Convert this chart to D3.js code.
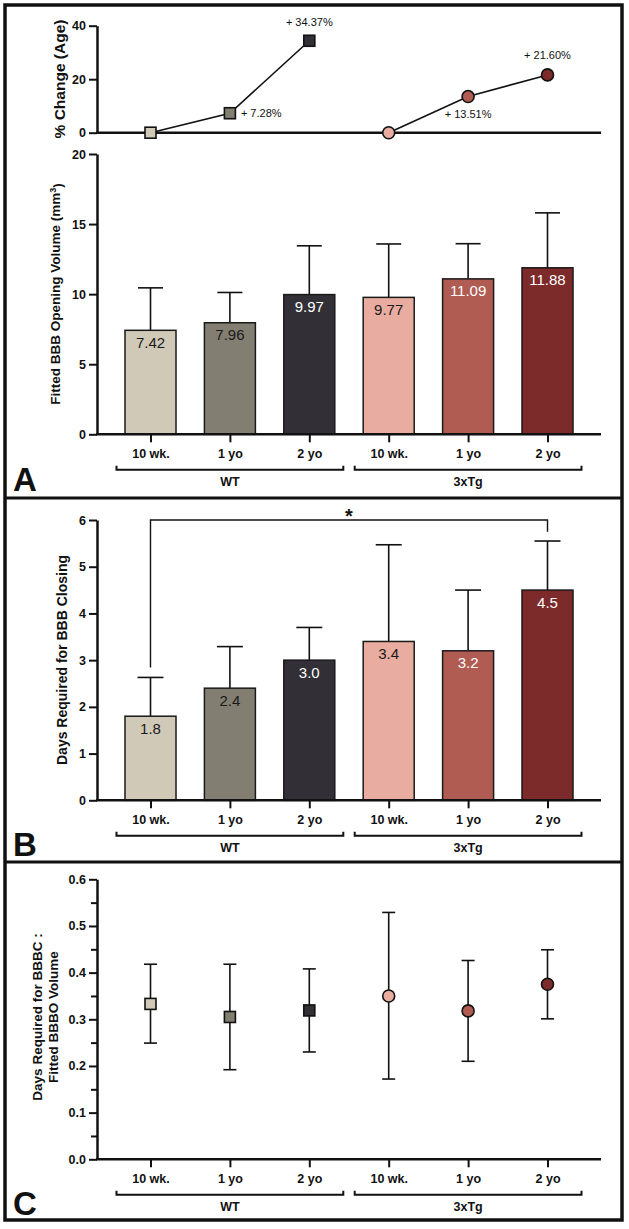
<!DOCTYPE html>
<html>
<head>
    <meta charset="UTF-8">
    <style>
        body {
            margin: 0;
            background: #fff;
        }

        svg text {
            font-family: "Liberation Sans", Arial, sans-serif;
        }

        .axis text {
            font-size: 12.5px;
            font-weight: bold;
            fill: #111;
        }

        .axis line,
        .axis path {
            stroke: #111;
        }

        .title {
            font-size: 13.5px;
            font-weight: bold;
            fill: #111;
        }

        .panel-letter {
            font-size: 33px;
            font-weight: bold;
            fill: #111;
        }
    </style>
    <title>BBB opening and closing</title>
</head>
<body>
    <svg id="chart" width="629" height="1229"></svg>

    <script src="https://d3js.org/d3.v7.min.js"></script>
    <script>
        // categories, left to right
        const categories = ["WT 10wk", "WT 1yo", "WT 2yo", "3xTg 10wk", "3xTg 1yo", "3xTg 2yo"];
        const ageLabels = ["10 wk.", "1 yo", "2 yo", "10 wk.", "1 yo", "2 yo"];
        const groupNames = ["WT", "3xTg"];
        const groupOf = ["WT", "WT", "WT", "3xTg", "3xTg", "3xTg"];
        const colors = ["#d0c9b7", "#827e71", "#323036", "#e8ada0", "#b05c52", "#7d2a2a"];

        // A (top): % change with age
        const pctChange = [0, 7.28, 34.37, 0, 13.51, 21.60];
        const pctLabels = ["", "+ 7.28%", "+ 34.37%", "", "+ 13.51%", "+ 21.60%"];

        // A: fitted BBB opening volume, mean and top of error bar
        const volumeMean = [7.42, 7.96, 9.97, 9.77, 11.09, 11.88];
        const volumeUpper = [10.45, 10.12, 13.45, 13.58, 13.6, 15.8];

        // B: days required for BBB closing
        const closingMean = [1.8, 2.4, 3.0, 3.4, 3.2, 4.5];
        const closingUpper = [2.63, 3.29, 3.70, 5.47, 4.50, 5.55];

        // C: ratio closing days / opening volume
        const ratioMean = [0.333, 0.305, 0.319, 0.35, 0.318, 0.375];
        const ratioLow = [0.249, 0.192, 0.23, 0.172, 0.21, 0.301];
        const ratioHigh = [0.418, 0.418, 0.408, 0.529, 0.426, 0.449];

        const svg = d3.select("#chart");
        const ink = "#111";
        const axisLeftX = 97, axisRightX = 601;
        const barWidth = 51;

        const x = d3.scalePoint().domain(categories).range([150.5, 547.5]);

        // label colour: white on the dark bars
        const lightText = i => (i === 2 || i === 4 || i === 5);

        // outer frame and panel dividers
        svg.append("rect")
            .attr("x", 5).attr("y", 5)
            .attr("width", 617).attr("height", 1215)
            .attr("fill", "none").attr("stroke", ink).attr("stroke-width", 3.5);
        [498, 862].forEach(y => {
            svg.append("line")
                .attr("x1", 5).attr("x2", 622).attr("y1", y).attr("y2", y)
                .attr("stroke", ink).attr("stroke-width", 3);
        });


        function drawYAxis(scale, ticks, minorTicks, format) {
            const g = svg.append("g")
                .attr("class", "axis")
                .attr("transform", `translate(${axisLeftX},0)`)
                .call(d3.axisLeft(scale).tickValues(ticks).tickFormat(format)
                    .tickSize(8).tickSizeOuter(0).tickPadding(3));
            g.select(".domain").attr("stroke-width", 2.5);
            g.selectAll(".tick line").attr("stroke-width", 2);

            if (minorTicks) {
                const m = svg.append("g")
                    .attr("class", "axis")
                    .attr("transform", `translate(${axisLeftX},0)`)
                    .call(d3.axisLeft(scale).tickValues(minorTicks).tickFormat("")
                        .tickSize(6).tickSizeOuter(0));
                m.select(".domain").remove();
                m.selectAll(".tick line").attr("stroke-width", 2);
            }
        }


        function drawBaseline(y) {
            svg.append("line")
                .attr("x1", axisLeftX - 1).attr("x2", axisRightX)
                .attr("y1", y).attr("y2", y)
                .attr("stroke", ink).attr("stroke-width", 2.5);
        }


        function drawXAxis(baseY, letter, letterY) {
            drawBaseline(baseY);

            const g = svg.append("g")
                .attr("class", "axis")
                .attr("transform", `translate(0,${baseY})`)
                .call(d3.axisBottom(x).tickFormat((d, i) => ageLabels[i])
                    .tickSize(8).tickSizeOuter(0).tickPadding(7));
            g.select(".domain").remove();
            g.selectAll(".tick line").attr("stroke-width", 2);

            // group brackets
            groupNames.forEach(name => {
                const members = categories.filter((c, i) => groupOf[i] === name);
                const x0 = x(members[0]) - 34, x1 = x(members[members.length - 1]) + 34;
                const by = baseY + 35.5;
                svg.append("path")
                    .attr("d", `M${x0},${by - 4}V${by}H${x1}V${by - 4}`)
                    .attr("fill", "none").attr("stroke", ink).attr("stroke-width", 2);
                svg.append("text")
                    .attr("x", (x0 + x1) / 2).attr("y", baseY + 51.5)
                    .attr("text-anchor", "middle")
                    .style("font-size", "12.5px").style("font-weight", "bold").style("fill", ink)
                    .text(name);
            });

            svg.append("text")
                .attr("class", "panel-letter")
                .attr("x", 13).attr("y", letterY)
                .text(letter);
        }


        function drawYTitle(lines, cx, cy, size) {
            const t = svg.append("text")
                .attr("class", "title")
                .attr("transform", `translate(${cx},${cy}) rotate(-90)`)
                .attr("text-anchor", "middle");
            if (size) t.style("font-size", size + "px");
            lines.forEach((line, k) => {
                const tspan = t.append("tspan")
                    .attr("x", 0)
                    .attr("dy", k === 0 ? `${0.35 - (lines.length - 1) * 0.6}em` : "1.2em");
                if (Array.isArray(line)) {
                    tspan.text(line[0]);
                    tspan.append("tspan").attr("dy", "-0.4em").style("font-size", "9px").text(line[1]);
                    tspan.append("tspan").attr("dy", "0.4em").text(line[2]);
                } else {
                    tspan.text(line);
                }
            });
        }


        function drawMarker(sel, i, cx, cy, half, r) {
            if (groupOf[i] === "WT") {
                sel.append("rect")
                    .attr("x", cx - half).attr("y", cy - half)
                    .attr("width", half * 2).attr("height", half * 2)
                    .attr("fill", colors[i]).attr("stroke", ink).attr("stroke-width", 1.6);
            } else {
                sel.append("circle")
                    .attr("cx", cx).attr("cy", cy).attr("r", r)
                    .attr("fill", colors[i]).attr("stroke", ink).attr("stroke-width", 1.6);
            }
        }


        function drawBars(y, means, uppers, decimals, capWidth) {
            const g = svg.append("g");
            categories.forEach((c, i) => {
                const cx = x(c);
                // upper error bar
                g.append("line")
                    .attr("x1", cx).attr("x2", cx)
                    .attr("y1", y(means[i])).attr("y2", y(uppers[i]))
                    .attr("stroke", ink).attr("stroke-width", 1.6);
                g.append("line")
                    .attr("x1", cx - capWidth / 2).attr("x2", cx + capWidth / 2)
                    .attr("y1", y(uppers[i])).attr("y2", y(uppers[i]))
                    .attr("stroke", ink).attr("stroke-width", 1.6);

                g.append("rect")
                    .attr("x", cx - barWidth / 2)
                    .attr("y", y(means[i]))
                    .attr("width", barWidth)
                    .attr("height", y(0) - y(means[i]))
                    .attr("fill", colors[i])
                    .attr("stroke", "#1a1a1a").attr("stroke-width", 1.5);

                g.append("text")
                    .attr("x", cx).attr("y", y(means[i]) + 17.5)
                    .attr("text-anchor", "middle")
                    .style("font-size", "15px")
                    .style("fill", lightText(i) ? "#fff" : "#1a1a1a")
                    .text(means[i].toFixed(decimals));
            });
        }


        // ---------- A top: % change ----------
        const yPct = d3.scaleLinear().domain([0, 40]).range([132.7, 25.7]);
        drawYAxis(yPct, [0, 20, 40], null, d3.format("d"));
        drawBaseline(yPct(0));
        drawYTitle(["% Change (Age)"], 60, 79, 15.5);

        groupNames.forEach(name => {
            const idx = categories.map((c, i) => i).filter(i => groupOf[i] === name);
            svg.append("path")
                .datum(idx)
                .attr("d", d3.line().x(i => x(categories[i])).y(i => yPct(pctChange[i])))
                .attr("fill", "none").attr("stroke", ink).attr("stroke-width", 1.6);
        });
        categories.forEach((c, i) => drawMarker(svg, i, x(c), yPct(pctChange[i]), 5.5, 6));

        // label placement beside each point
        const pctOffsets = [null, [11, 4, "start"], [0, -15, "middle"], null, [0, 21, "middle"], [0, -16, "middle"]];
        categories.forEach((c, i) => {
            if (!pctLabels[i]) return;
            const [dx, dy, anchor] = pctOffsets[i];
            svg.append("text")
                .attr("x", x(c) + dx).attr("y", yPct(pctChange[i]) + dy)
                .attr("text-anchor", anchor)
                .style("font-size", "11px").style("fill", ink)
                .text(pctLabels[i]);
        });

        // ---------- A: opening volume ----------
        const yVol = d3.scaleLinear().domain([0, 20]).range([434.3, 154]);
        drawYAxis(yVol, [0, 5, 10, 15, 20], null, d3.format("d"));
        drawBars(yVol, volumeMean, volumeUpper, 2, 25);
        drawXAxis(yVol(0), "A", 491);
        drawYTitle([["Fitted BBB Opening Volume (mm", "3", ")"]], 55, 294);

        // ---------- B: closing days ----------
        const yDays = d3.scaleLinear().domain([0, 6]).range([800.3, 520]);
        drawYAxis(yDays, d3.range(0, 7), null, d3.format("d"));
        drawBars(yDays, closingMean, closingUpper, 1, 26);
        drawXAxis(yDays(0), "B", 856);
        drawYTitle(["Days Required for BBB Closing"], 62, 660, 14);

        // significance bracket 10 wk. WT vs 2 yo 3xTg
        const sx0 = x(categories[0]), sx1 = x(categories[5]);
        svg.append("path")
            .attr("d", `M${sx0},${yDays(2.84)}V${yDays(6)}H${sx1}V${yDays(5.75)}`)
            .attr("fill", "none").attr("stroke", ink).attr("stroke-width", 1.4);
        svg.append("text")
            .attr("x", (sx0 + sx1) / 2).attr("y", yDays(6) + 3)
            .attr("text-anchor", "middle")
            .style("font-size", "20px").style("font-weight", "bold").style("fill", ink)
            .text("*");

        // ---------- C: ratio ----------
        const yRatio = d3.scaleLinear().domain([0, 0.6]).range([1159.3, 879.3]);
        drawYAxis(yRatio, d3.range(0, 0.61, 0.1), d3.range(0.05, 0.6, 0.1), d3.format(".1f"));
        drawXAxis(yRatio(0), "C", 1215);
        drawYTitle(["Days Required for BBBC :", "Fitted BBBO Volume"], 45, 1017, 13.5);

        categories.forEach((c, i) => {
            const cx = x(c);
            svg.append("line")
                .attr("x1", cx).attr("x2", cx)
                .attr("y1", yRatio(ratioLow[i])).attr("y2", yRatio(ratioHigh[i]))
                .attr("stroke", ink).attr("stroke-width", 1.6);
            [ratioLow[i], ratioHigh[i]].forEach(v => {
                svg.append("line")
                    .attr("x1", cx - 6.5).attr("x2", cx + 6.5)
                    .attr("y1", yRatio(v)).attr("y2", yRatio(v))
                    .attr("stroke", ink).attr("stroke-width", 1.6);
            });
            drawMarker(svg, i, cx, yRatio(ratioMean[i]), 5.5, 6);
        });
    </script>
</body>
</html>
